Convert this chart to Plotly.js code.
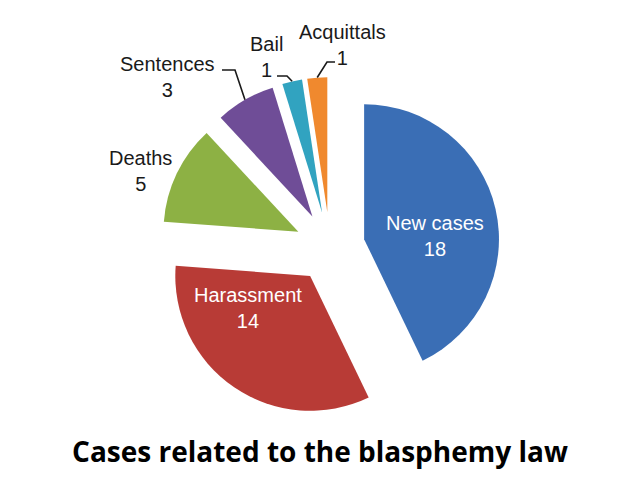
<!DOCTYPE html>
<html>
<head>
<meta charset="utf-8">
<script src="https://cdn.plot.ly/plotly-3.0.1.min.js"></script>
<style>html,body{margin:0;padding:0;background:#fff;}#chart{width:640px;height:480px;}</style>
</head>
<body>
<div id="chart"></div>
<script>
// ---- data ----
var categories = ["New cases", "Harassment", "Deaths", "Sentences", "Bail", "Acquittals"];
var counts = [18, 14, 5, 3, 1, 1];
var sliceColors = ["#3A6EB5", "#B83B36", "#8DB144", "#6F4D97", "#31A3C0", "#F0892E"];
var chartTitle = "Cases related to the blasphemy law";

// ---- layout constants ----
var W = 640, H = 480;
var PULL = 0.26;
var DOM_X = [0.25, 0.781], DOM_Y = [0.131, 0.840];
// label placement (pixels) : centre of label block, text colour, optional elbow of leader line
var labelPlacement = [
  { x: 435, y: 236, color: "#ffffff" },
  { x: 248, y: 308, color: "#ffffff" },
  { x: 140, y: 171, color: "#1a1a1a" },
  { x: 167, y: 77,  color: "#1a1a1a", lineFrom: [222, 70], elbow: [235, 70] },
  { x: 266, y: 57,  color: "#1a1a1a", lineFrom: [277, 76], elbow: [287, 76] },
  { x: 342, y: 45,  color: "#1a1a1a", lineFrom: [335, 62], elbow: [327, 62] }
];

var trace = {
  type: "pie",
  labels: categories,
  values: counts,
  sort: false,
  direction: "clockwise",
  rotation: 0,
  pull: PULL,
  marker: { colors: sliceColors, line: { width: 0 } },
  textinfo: "none",
  domain: { x: DOM_X, y: DOM_Y },
  hoverinfo: "none",
  showlegend: false
};

// pie geometry (same as plotly's own: radius = box / (2 + 2*pull))
var cx = (DOM_X[0] + DOM_X[1]) / 2 * W;
var cy = (1 - (DOM_Y[0] + DOM_Y[1]) / 2) * H;
var R = Math.min((DOM_X[1] - DOM_X[0]) * W, (DOM_Y[1] - DOM_Y[0]) * H) / (2 + 2 * PULL);
var total = counts.reduce(function (a, b) { return a + b; }, 0);

function px2paper(p) { return [p[0] / W, 1 - p[1] / H]; }

var annotations = [];
var shapes = [];
var cum = 0;
for (var i = 0; i < categories.length; i++) {
  var mid = (cum + counts[i] / 2) / total * 2 * Math.PI;
  cum += counts[i];
  var lp = labelPlacement[i];
  var pos = px2paper([lp.x, lp.y]);
  annotations.push({
    xref: "paper", yref: "paper", x: pos[0], y: pos[1],
    xanchor: "center", yanchor: "middle", align: "center",
    showarrow: false,
    text: categories[i] + "<br>" + counts[i],
    font: { family: "Liberation Sans, Arial, sans-serif", size: 20, color: lp.color }
  });
  if (lp.lineFrom) {
    var d = R * (1 + PULL);
    var arcPt = [cx + d * Math.sin(mid), cy - d * Math.cos(mid)];
    var a = px2paper(lp.lineFrom), b = px2paper(lp.elbow), c = px2paper(arcPt);
    shapes.push({
      type: "path", xref: "paper", yref: "paper",
      path: "M" + a[0] + "," + a[1] + " L" + b[0] + "," + b[1] + " L" + c[0] + "," + c[1],
      line: { color: "#1a1a1a", width: 1.6 }
    });
  }
}

var layout = {
  width: W,
  height: H,
  margin: { l: 0, r: 0, t: 0, b: 0 },
  paper_bgcolor: "#ffffff",
  showlegend: false,
  annotations: annotations,
  shapes: shapes,
  title: {
    text: "<b>" + chartTitle + "</b>",
    font: { family: "Open Sans, Lato, sans-serif", size: 28, color: "#000000" },
    x: 0.5,
    xanchor: "center",
    y: 0.058,
    yanchor: "middle",
    yref: "container"
  }
};

Plotly.newPlot("chart", [trace], layout, { displayModeBar: false, staticPlot: true });
</script>
</body>
</html>
